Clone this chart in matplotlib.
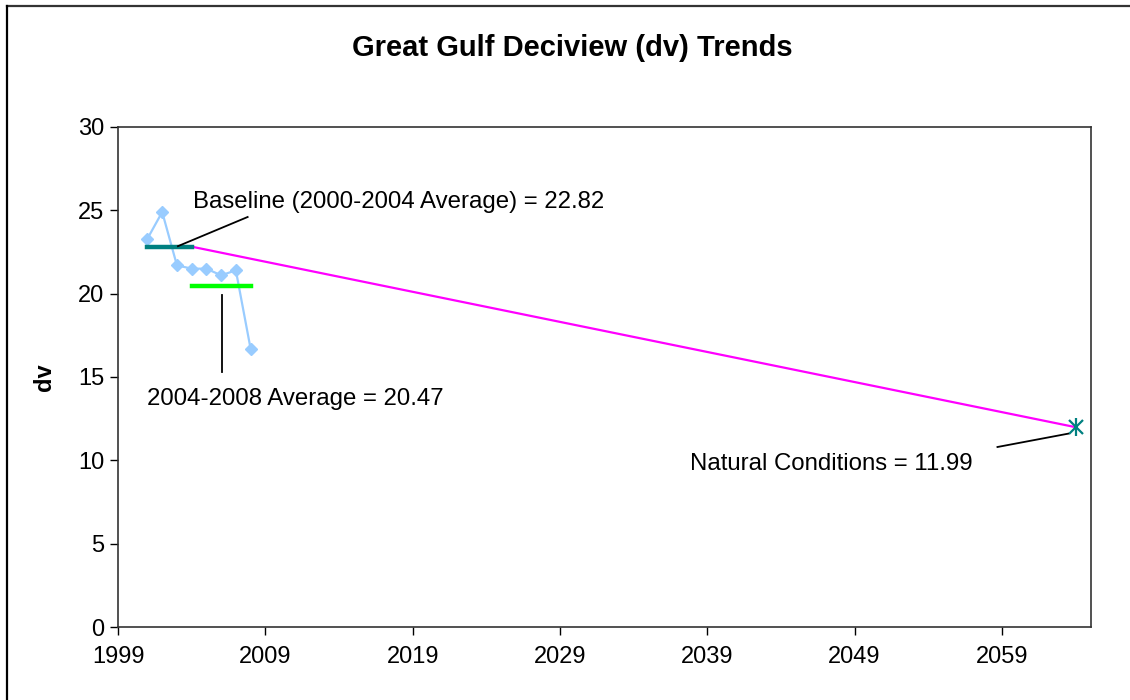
import matplotlib
matplotlib.use("Agg")
import matplotlib.pyplot as plt
from matplotlib.lines import Line2D

plt.rcParams['font.family'] = ['Liberation Sans', 'DejaVu Sans']

# Data
years = [2001, 2002, 2003, 2004, 2005, 2006, 2007, 2008]
dv = [23.3, 24.9, 21.7, 21.5, 21.5, 21.1, 21.4, 16.7]

baseline_years = [2001, 2004]
baseline_value = 22.82
recent_years = [2004, 2008]
recent_value = 20.47
glide_years = [2004, 2064]
glide_values = [22.82, 11.99]
natural_year = 2064
natural_value = 11.99

xticks = [1999, 2009, 2019, 2029, 2039, 2049, 2059]
yticks = [0, 5, 10, 15, 20, 25, 30]

W, H = 1130, 700
fig = plt.figure(figsize=(W / 100, H / 100), dpi=100)
ax = fig.add_axes([118 / W, 1 - 627 / H, (1091 - 118) / W, (627 - 127) / H])

ax.plot(glide_years, glide_values, color='#FF00FF', lw=1.6, zorder=2)
ax.plot(years, dv, color='#99CCFF', lw=1.6, marker='D', ms=6.5,
        markeredgecolor='#99CCFF', zorder=3)
ax.plot(baseline_years, [baseline_value] * 2, color='#008080', lw=3.2, zorder=4)
ax.plot(recent_years, [recent_value] * 2, color='#00FF00', lw=3.2, zorder=4)
ax.plot([natural_year], [natural_value], marker='x', ms=10, mew=1.6,
        color='#008080', zorder=5)
ax.plot([natural_year], [natural_value], marker='|', ms=13, mew=1.6,
        color='#008080', zorder=5)

ax.set_xlim(1999, 2065.05)
ax.set_ylim(0, 30)
ax.set_xticks(xticks)
ax.set_yticks(yticks)
ax.tick_params(direction='out', length=6, width=1, labelsize=17,
               colors='#000000', pad=4)
ax.tick_params(axis='x', pad=8)
for s in ax.spines.values():
    s.set_linewidth(1.2)
    s.set_color('#333333')

ax.set_ylabel('dv', fontsize=17, fontweight='bold', labelpad=16)
fig.text(572 / W, 1 - 48 / H, 'Great Gulf Deciview (dv) Trends',
         ha='center', va='center', fontsize=21, fontweight='bold')

# Annotations: text labels and leader lines
fs = 17.3
ax.text(2004.1, 25.5, 'Baseline (2000-2004 Average) = 22.82',
        fontsize=fs, ha='left', va='center')
ax.plot([2003.07, 2007.8], [22.85, 24.6], color='black', lw=1.3, zorder=6)

ax.text(2001.0, 13.65, '2004-2008 Average = 20.47',
        fontsize=fs, ha='left', va='center')
ax.plot([2006.06, 2006.06], [19.9, 15.3], color='black', lw=1.3, zorder=6)

ax.text(2037.8, 9.75, 'Natural Conditions = 11.99',
        fontsize=fs, ha='left', va='center')
ax.plot([2063.5, 2058.7], [11.6, 10.8], color='black', lw=1.3, zorder=6)

# Outer chart border (top and left visible)
fig.add_artist(Line2D([7 / W, 1.0], [1 - 6 / H, 1 - 6 / H], color='#333333', lw=1.6))
fig.add_artist(Line2D([7 / W, 7 / W], [0.0, 1 - 6 / H], color='#000000', lw=1.6))

fig.savefig('out.png', dpi=100)
